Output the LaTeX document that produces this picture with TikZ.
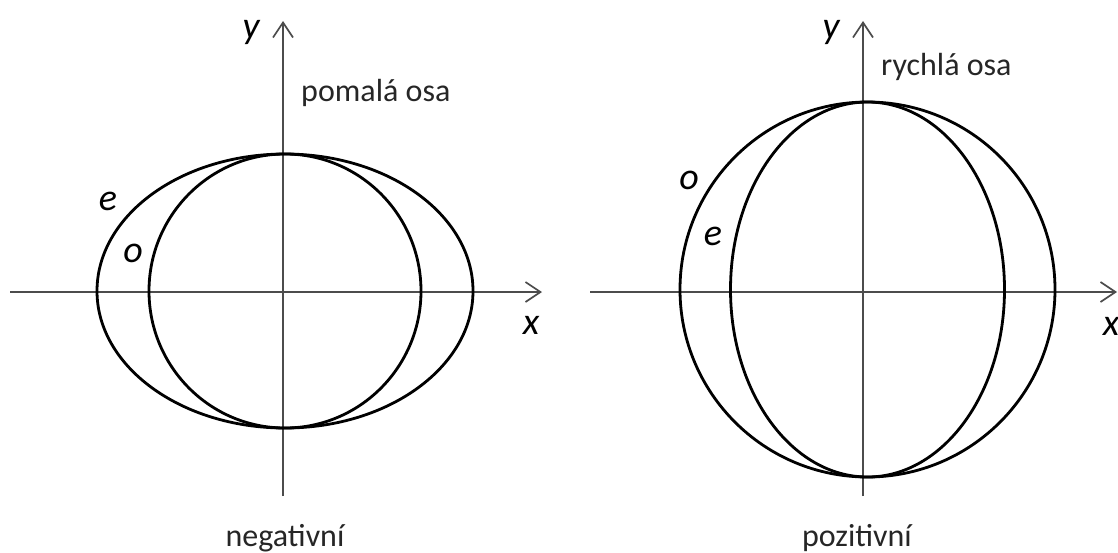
\documentclass[tikz,border=0pt]{standalone}
\usepackage{fontspec}
\setmainfont{Carlito}
\usetikzlibrary{arrows.meta}
\begin{document}
\begin{tikzpicture}[x=1pt,y=-1pt,
  axis/.style={draw=black!70,line width=1.7pt,-{Straight Barb[length=15pt,width=20pt,line width=1.7pt]}},
  curve/.style={draw=black,line width=2.8pt},
  lbl/.style={font=\fontsize{32}{34}\selectfont,text=black!85,inner sep=0pt},
  var/.style={font=\fontsize{38}{40}\selectfont\itshape,inner sep=0pt}]
\useasboundingbox (0,0) rectangle (1118,552);
% left
\coordinate (L1) at (10,292);
\coordinate (L2) at (542,292);
\coordinate (L3) at (283,496);
\coordinate (L4) at (283,21);
\draw[axis] (L1) -- (L2);
\draw[axis] (L3) -- (L4);
\draw[curve] (285,291) circle[x radius=136,y radius=137];
\draw[curve] (285,291) circle[x radius=188,y radius=137];
\node[var] (ly) at (251,32) {y};
\node[var] (lx) at (531,325) {x};
\node[var] (le) at (108,201) {e};
\node[var] (lo) at (133,253) {o};
\node[lbl,anchor=base west] (lp) at (301,101) {pomalá osa};
\node[lbl,anchor=base] (ln) at (285,546) {negativní};
% right
\coordinate (R1) at (590,292);
\coordinate (R2) at (1117,292);
\coordinate (R3) at (863,496);
\coordinate (R4) at (863,21);
\draw[axis] (R1) -- (R2);
\draw[axis] (R3) -- (R4);
\draw[curve] (867.5,289.5) circle[x radius=187.5,y radius=187.5];
\draw[curve] (867.5,289.5) circle[x radius=137,y radius=187.5];
\node[var] (ry) at (831,32) {y};
\node[var] (rx) at (1111,326) {x};
\node[var] (ro) at (689,180) {o};
\node[var] (re) at (713,236) {e};
\node[lbl,anchor=base west] (rp) at (881,75) {rychlá osa};
\node[lbl,anchor=base] (rn) at (857,546) {pozitivní};
\end{tikzpicture}
\end{document}
